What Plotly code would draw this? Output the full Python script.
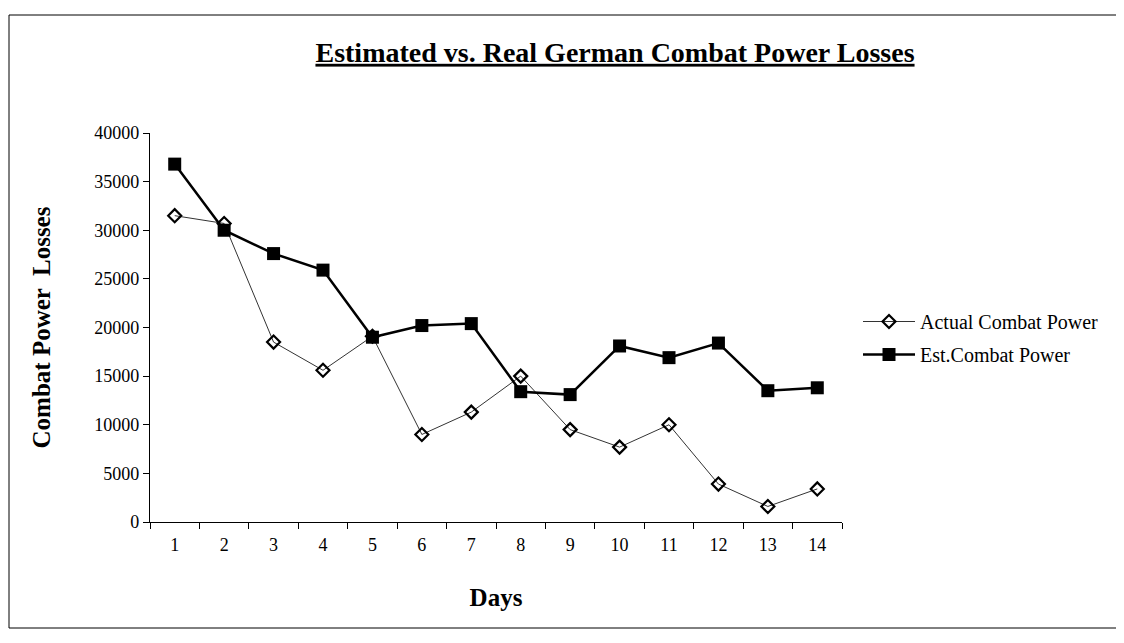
import plotly.graph_objects as go

days = [str(d) for d in range(1, 15)]
actual_power = [31500, 30700, 18500, 15600, 19100, 9000, 11300, 15000, 9500, 7700, 10000, 3900, 1600, 3400]
est_power = [36800, 30000, 27600, 25900, 19000, 20200, 20400, 13400, 13100, 18100, 16900, 18400, 13500, 13800]
y_ticks = [0, 5000, 10000, 15000, 20000, 25000, 30000, 35000, 40000]

serif = "Liberation Serif, Times New Roman, serif"

# page has an 8px body margin; figure coordinates = reference pixel - 8
OFF = 8
W, H = 1124 - 2 * OFF, 643 - 2 * OFF
PX_L, PX_R, PX_T, PX_B = 150, 842, 133, 522  # plot area in reference pixels
L = PX_L - OFF
T = PX_T - OFF
pw = PX_R - PX_L
ph = PX_B - PX_T
R = W - L - pw
B = H - T - ph

def px_x(p):
    return (p - PX_L) / pw

def px_y(p):
    return (PX_B - p) / ph

fig = go.Figure()
fig.add_trace(go.Scatter(
    x=days, y=actual_power, name="Actual Combat Power", mode="lines+markers",
    legendgroup="a",
    line=dict(color="#333333", width=1),
    marker=dict(symbol="diamond-open", size=10, color="black", line=dict(width=2.2, color="black")),
))
fig.add_trace(go.Scatter(
    x=days, y=est_power, name="Est.Combat Power", mode="lines+markers",
    legendgroup="b",
    line=dict(color="black", width=2.5),
    marker=dict(symbol="square", size=13, color="black"),
))

fig.update_layout(
    width=W, height=H,
    margin=dict(l=L, r=R, t=T, b=B, autoexpand=False),
    paper_bgcolor="white", plot_bgcolor="white",
    font=dict(family=serif, color="black", size=16),
    title=dict(
        text="<b>Estimated vs. Real German Combat Power Losses</b>",
        x=(615 - OFF) / W, xanchor="center", y=1 - (52 - OFF) / H, yanchor="middle",
        font=dict(family=serif, size=28, color="black", lineposition="under"),
    ),
    xaxis=dict(
        type="category", tickson="boundaries", range=[-0.5, 13.5],
        ticks="outside", ticklen=6, ticklabelstandoff=6,
        tickcolor="black", showline=True, linecolor="black", linewidth=1.2,
        showgrid=False, zeroline=False,
        tickfont=dict(family=serif, size=18),
        title=dict(text="<b>Days</b>", font=dict(family=serif, size=25), standoff=34),
    ),
    yaxis=dict(
        range=[0, 40000], tickmode="array", tickvals=y_ticks,
        ticktext=[str(v) for v in y_ticks],
        ticks="outside", ticklen=6, tickcolor="black",
        showline=True, linecolor="black", linewidth=1.2,
        showgrid=False, zeroline=False,
        tickfont=dict(family=serif, size=18),
        title=dict(text="<b>Combat Power  Losses</b>", font=dict(family=serif, size=25), standoff=36),
    ),
    legend=dict(
        x=px_x(858), y=px_y(302), xanchor="left", yanchor="top",
        font=dict(family=serif, size=20, color="black"),
        bgcolor="rgba(0,0,0,0)", tracegroupgap=4, itemwidth=52,
    ),
    showlegend=True,
    shapes=[dict(
        type="rect", xref="paper", yref="paper",
        x0=px_x(9), x1=px_x(1119), y0=px_y(628), y1=px_y(15),
        line=dict(color="black", width=1),
    )],
)

fig.write_html("out.html")
